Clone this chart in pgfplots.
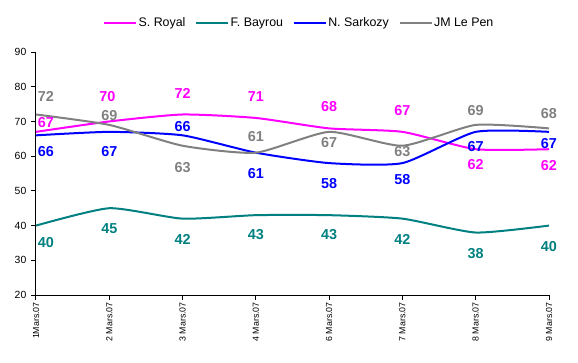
\documentclass[border=0pt]{standalone}
\usepackage{fontspec}
\setmainfont{Liberation Sans}
\usepackage{pgfplots}
\usepackage{pgfplotstable}
\pgfplotsset{compat=1.18}
\definecolor{croyal}{RGB}{255,0,255}
\definecolor{cbay}{RGB}{0,128,128}
\definecolor{csark}{RGB}{0,0,255}
\definecolor{cpen}{RGB}{128,128,128}

\pgfplotstableread{
x y dy dx
0 67 6.75 7.5
1 70 18.75 -1.5
2 72 15.75 0
3 71 15.75 0
4 68 16.2 0
5 67 15.75 0
6 62 -11.6 0
7 62 -12.4 0
}\royal
\pgfplotstableread{
x y dy dx
0 40 -12.75 7.5
1 45 -15 0
2 42 -15.5 0
3 43 -14.85 0
4 43 -14.85 0
5 42 -15.5 0
6 38 -15.75 0
7 40 -15.4 0
}\bayrou
\pgfplotstableread{
x y dy dx
0 66 -12.5 7.5
1 67 -15 0
2 66 6.75 0
3 61 -15.5 0
4 58 -15.2 0
5 58 -12.5 0
6 67 -11.25 0
7 67 -9 0
}\sarkozy
\pgfplotstableread{
x y dy dx
0 72 13.5 7.5
1 69 6.75 0
2 63 -16.5 0
3 61 12 0
4 67 -8 0
5 63 -4.5 0
6 69 10.5 0
7 68 11 0
}\lepen

\begin{document}
\begin{tikzpicture}
\path[use as bounding box] (0,0) rectangle (433.5pt,271.5pt);
\begin{axis}[
  at={(27pt,50.25pt)}, anchor=south west,
  scale only axis, width=384.75pt, height=182.25pt,
  xmin=0, xmax=7, ymin=20, ymax=90,
  axis x line*=bottom, axis y line*=left,
  axis line style={black, line width=0.75pt},
  tick align=outside,
  major tick length=3.75pt,
  tick style={black, line width=0.75pt},
  xtick={0,...,7},
  xticklabels={1Mars.07, 2 Mars.07, 3 Mars.07, 4 Mars.07, 6 Mars.07, 7 Mars.07, 8 Mars.07, 9 Mars.07},
  x tick label style={rotate=90, anchor=east, font=\fontsize{6.6}{7}\selectfont, inner sep=1.5pt},
  ytick={20,30,...,90},
  y tick label style={font=\fontsize{7.8}{9}\selectfont},
  /pgf/number format/assume math mode=true,
  legend columns=-1,
  legend style={at={(0.5127,1.119)}, anchor=center, draw=none, fill=none,
    font=\fontsize{9.3}{11}\selectfont,
    /tikz/every even column/.append style={column sep=6pt},
    nodes={inner sep=1.2pt}},
  legend image code/.code={\draw[#1] (0pt,0pt) -- (24pt,0pt);},
  every axis plot/.append style={line width=1.5pt},
  label plot/.style={draw=none, mark=none, only marks, forget plot,
    point meta=explicit symbolic,
    nodes near coords,
    visualization depends on={\thisrow{dy} \as \dy},
    visualization depends on={\thisrow{dx} \as \dx},
    nodes near coords style={anchor=center, yshift=\dy pt, xshift=\dx pt,
      font=\fontsize{10.8}{12}\selectfont\bfseries, text=#1}},
]
\addplot[croyal, smooth, tension=0.35] table[x=x,y=y] {\royal};
\addlegendentry{S. Royal}
\addplot[cbay, smooth, tension=0.35] table[x=x,y=y] {\bayrou};
\addlegendentry{F. Bayrou}
\addplot[csark, smooth, tension=0.35] table[x=x,y=y] {\sarkozy};
\addlegendentry{N. Sarkozy}
\addplot[cpen, smooth, tension=0.35] table[x=x,y=y] {\lepen};
\addlegendentry{JM Le Pen}

\addplot[label plot=croyal] table[x=x,y=y,meta=y] {\royal};
\addplot[label plot=cbay] table[x=x,y=y,meta=y] {\bayrou};
\addplot[label plot=csark] table[x=x,y=y,meta=y] {\sarkozy};
\addplot[label plot=cpen] table[x=x,y=y,meta=y] {\lepen};
\end{axis}
\end{tikzpicture}
\end{document}
